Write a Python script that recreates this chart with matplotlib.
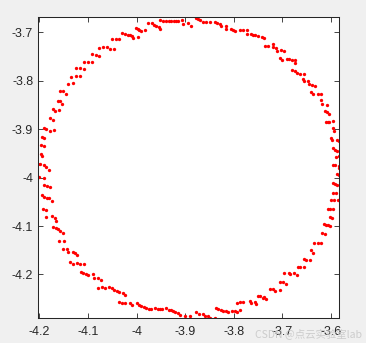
import matplotlib
matplotlib.use("Agg")
import matplotlib.pyplot as plt
import numpy as np

# ---- data (point cloud ring) ----
upper_left_x = [-4.029, -4.023, -4.018, -4.013, -4.010, -4.007, -4.051, -4.043, -4.036,
                -4.078, -4.070, -4.060, -4.055, -4.047, -4.092, -4.084, -4.078, -4.109,
                -4.100, -4.092, -4.125, -4.116, -4.109, -4.135, -4.125, -4.116, -4.142,
                -4.131, -4.158, -4.151, -4.146, -4.162, -4.158, -4.153, -4.173, -4.169,
                -4.159]
upper_left_y = [-3.701, -3.703, -3.705, -3.706, -3.708, -3.711, -3.714, -3.714, -3.714,
                -3.732, -3.731, -3.731, -3.734, -3.735, -3.745, -3.746, -3.748, -3.760,
                -3.761, -3.761, -3.774, -3.774, -3.776, -3.792, -3.790, -3.790, -3.806,
                -3.804, -3.821, -3.821, -3.827, -3.841, -3.842, -3.847, -3.858, -3.863,
                -3.860]

top_x = [-3.998, -4.002, -3.998, -3.994, -3.990, -3.983, -3.976, -3.969, -3.965, -3.959,
         -3.954, -3.951, -3.951, -3.946, -3.940, -3.934, -3.929, -3.923, -3.918, -3.914,
         -3.906, -3.904, -3.895, -3.887, -3.877, -3.874, -3.870, -3.864, -3.856, -3.849,
         -3.839, -3.834, -3.829, -3.826, -3.816, -3.815, -3.806, -3.802, -3.798, -3.787,
         -3.780]
top_y = [-3.709, -3.690, -3.692, -3.695, -3.697, -3.695, -3.681, -3.681, -3.685, -3.687,
         -3.689, -3.692, -3.674, -3.676, -3.677, -3.677, -3.677, -3.676, -3.677, -3.677,
         -3.675, -3.683, -3.680, -3.687, -3.670, -3.673, -3.675, -3.678, -3.678, -3.679,
         -3.679, -3.681, -3.683, -3.687, -3.686, -3.693, -3.692, -3.694, -3.697, -3.695,
         -3.695]

upper_right_x = [-3.772, -3.773, -3.765, -3.760, -3.755, -3.749, -3.742, -3.737, -3.736,
                 -3.729, -3.719, -3.719, -3.713, -3.710, -3.703, -3.697, -3.705, -3.700,
                 -3.691, -3.685, -3.679, -3.673, -3.673, -3.679, -3.674, -3.669, -3.663,
                 -3.655, -3.658, -3.656, -3.647, -3.644, -3.639, -3.633, -3.640, -3.637,
                 -3.627, -3.621, -3.621, -3.618, -3.607, -3.612, -3.608, -3.604]
upper_right_y = [-3.695, -3.703, -3.703, -3.705, -3.706, -3.708, -3.709, -3.712, -3.727,
                 -3.727, -3.723, -3.731, -3.733, -3.739, -3.737, -3.739, -3.752, -3.756,
                 -3.755, -3.755, -3.757, -3.757, -3.763, -3.778, -3.780, -3.783, -3.786,
                 -3.786, -3.797, -3.801, -3.801, -3.806, -3.808, -3.810, -3.823, -3.828,
                 -3.827, -3.827, -3.840, -3.847, -3.850, -3.863, -3.865, -3.868]

right_x = [-3.610, -3.606, -3.603, -3.596, -3.595, -3.593, -3.600, -3.597, -3.588, -3.584,
           -3.596, -3.592, -3.588, -3.590, -3.583, -3.596, -3.592, -3.584, -3.582, -3.587,
           -3.584, -3.581, -3.596, -3.592, -3.588, -3.595, -3.590, -3.599, -3.593, -3.586,
           -3.606, -3.601, -3.596, -3.601, -3.597, -3.614, -3.610, -3.606, -3.601, -3.618,
           -3.612]
right_y = [-3.885, -3.885, -3.886, -3.883, -3.898, -3.904, -3.918, -3.922, -3.922, -3.925,
           -3.939, -3.942, -3.944, -3.958, -3.956, -3.973, -3.974, -3.976, -3.980, -3.992,
           -3.995, -3.995, -4.010, -4.014, -4.015, -4.031, -4.032, -4.047, -4.046, -4.046,
           -4.064, -4.064, -4.064, -4.082, -4.084, -4.095, -4.097, -4.098, -4.100, -4.115,
           -4.116]

lower_right_x = [-3.635, -3.626, -3.620, -3.641, -3.636, -3.655, -3.650, -3.643, -3.668,
                 -3.663, -3.656, -3.696, -3.687, -3.683, -3.676, -3.670, -3.704, -3.698,
                 -3.693, -3.725, -3.718, -3.714, -3.705, -3.750, -3.745, -3.740, -3.738,
                 -3.734, -3.787, -3.780, -3.767, -3.765, -3.756, -3.753, -3.787]
lower_right_y = [-4.136, -4.134, -4.136, -4.150, -4.155, -4.168, -4.170, -4.170, -4.184,
                 -4.184, -4.185, -4.198, -4.196, -4.199, -4.198, -4.201, -4.215, -4.215,
                 -4.219, -4.231, -4.230, -4.234, -4.233, -4.245, -4.245, -4.248, -4.246,
                 -4.250, -4.256, -4.256, -4.254, -4.260, -4.257, -4.262, -4.274]

bottom_x = [-4.014, -4.009, -3.999, -3.994, -3.990, -3.984, -3.980, -3.974, -3.970, -3.961,
            -3.955, -3.951, -3.947, -3.939, -3.934, -3.929, -3.925, -3.921, -3.914, -3.911,
            -3.901, -3.890, -3.877, -3.872, -3.863, -3.859, -3.852, -3.848, -3.839, -3.836,
            -3.832, -3.827, -3.822, -3.815, -3.811, -3.804, -3.798, -3.794, -3.794]
bottom_y = [-4.259, -4.263, -4.260, -4.263, -4.265, -4.267, -4.269, -4.271, -4.272, -4.270,
            -4.271, -4.272, -4.272, -4.270, -4.274, -4.274, -4.275, -4.278, -4.279, -4.284,
            -4.286, -4.286, -4.278, -4.282, -4.281, -4.285, -4.286, -4.289, -4.289, -4.270,
            -4.272, -4.274, -4.275, -4.275, -4.277, -4.276, -4.276, -4.277, -4.258]

lower_left_x = [-4.166, -4.172, -4.166, -4.161, -4.157, -4.152, -4.159, -4.149, -4.151,
                -4.143, -4.141, -4.131, -4.127, -4.122, -4.138, -4.130, -4.123, -4.116,
                -4.109, -4.115, -4.110, -4.105, -4.099, -4.089, -4.087, -4.079, -4.074,
                -4.080, -4.071, -4.066, -4.056, -4.051, -4.047, -4.041, -4.037, -4.028,
                -4.023, -4.037, -4.031, -4.023]
lower_left_y = [-4.089, -4.102, -4.104, -4.106, -4.110, -4.115, -4.131, -4.131, -4.147,
                -4.148, -4.154, -4.153, -4.156, -4.159, -4.175, -4.178, -4.177, -4.178,
                -4.179, -4.195, -4.198, -4.199, -4.202, -4.199, -4.207, -4.208, -4.212,
                -4.227, -4.226, -4.229, -4.225, -4.229, -4.232, -4.235, -4.237, -4.239,
                -4.242, -4.256, -4.258, -4.258]

left_x = [-4.179, -4.173, -4.191, -4.186, -4.179, -4.171, -4.195, -4.190, -4.197, -4.190,
          -4.197, -4.194, -4.204, -4.198, -4.190, -4.186, -4.181, -4.201, -4.191, -4.190,
          -4.184, -4.179, -4.195, -4.190, -4.184, -4.180, -4.175, -4.192, -4.186, -4.186,
          -4.175, -4.169]
left_y = [-3.876, -3.881, -3.897, -3.900, -3.903, -3.902, -3.916, -3.919, -3.933, -3.934,
          -3.951, -3.955, -3.971, -3.971, -3.974, -3.978, -3.984, -3.998, -4.000, -4.015,
          -4.017, -4.020, -4.035, -4.039, -4.042, -4.043, -4.049, -4.064, -4.067, -4.082,
          -4.079, -4.083]

x_ticks = [-4.2, -4.1, -4.0, -3.9, -3.8, -3.7, -3.6]
x_tick_labels = ["-4.2", "-4.1", "-4", "-3.9", "-3.8", "-3.7", "-3.6"]
y_ticks = [-4.2, -4.1, -4.0, -3.9, -3.8, -3.7]
y_tick_labels = ["-4.2", "-4.1", "-4", "-3.9", "-3.8", "-3.7"]

xs = np.concatenate([upper_left_x, top_x, upper_right_x, right_x,
                     lower_right_x, bottom_x, lower_left_x, left_x])
ys = np.concatenate([upper_left_y, top_y, upper_right_y, right_y,
                     lower_right_y, bottom_y, lower_left_y, left_y])

# ---- figure ----
plt.rcParams['font.family'] = ['Liberation Sans', 'DejaVu Sans']
fig = plt.figure(figsize=(3.66, 3.43), dpi=100, facecolor='#f0f0f0')
ax = fig.add_axes([38/366, 25/343, 301/366, 301/343])
ax.set_facecolor('white')

ax.plot(xs, ys, linestyle='none', marker='o', markersize=2.4,
        markeredgewidth=0, color='#ff0000')

ax.set_xlim(-4.203, -3.583)
ax.set_ylim(-4.290, -3.668)
ax.set_xticks(x_ticks)
ax.set_xticklabels(x_tick_labels)
ax.set_yticks(y_ticks)
ax.set_yticklabels(y_tick_labels)

tc = '#262626'
ax.tick_params(direction='in', top=True, right=True, length=3.5, width=0.6,
               colors=tc, labelsize=9, labelcolor=tc)
ax.tick_params(axis='x', pad=6)
ax.tick_params(axis='y', pad=3.5)
for s in ax.spines.values():
    s.set_color(tc)
    s.set_linewidth(0.75)

fig.text(0.99, 0.028, "CSDN @点云实验室lab", ha='right', va='center',
         fontsize=7.5, color='#c8c8c8', alpha=0.9,
         family=['Noto Sans CJK SC', 'DejaVu Sans'])

fig.savefig('out.png', dpi=100, facecolor=fig.get_facecolor())
